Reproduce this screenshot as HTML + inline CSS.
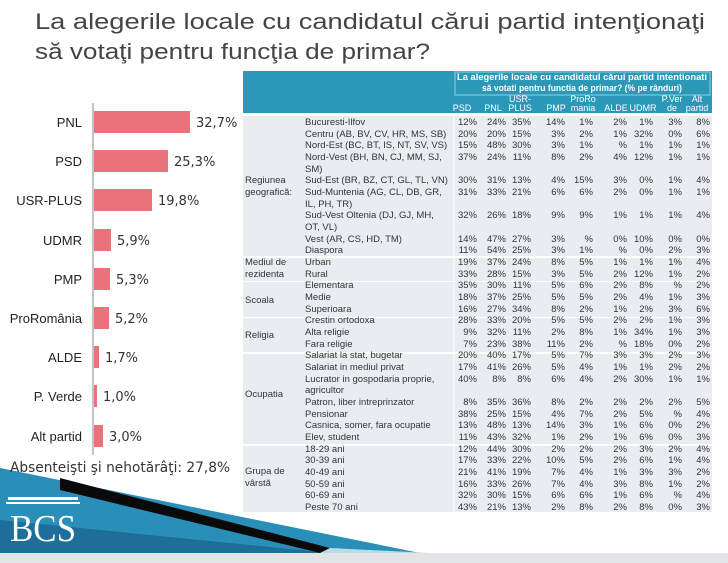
<!DOCTYPE html>
<html><head><meta charset="utf-8"><style>
html,body{margin:0;padding:0;background:#fff;width:728px;height:563px;overflow:hidden}
svg{display:block}
.t{font-family:"Liberation Sans",sans-serif;font-size:9.5px;fill:#333}
.n{font-family:"Liberation Sans",sans-serif;font-size:9.5px;fill:#333;text-anchor:end}
.h{font-family:"Liberation Sans",sans-serif;font-size:9px;fill:#fff;text-anchor:middle}
.bl{font-family:"Liberation Sans",sans-serif;font-size:13px;fill:#222;text-anchor:end}
.bv{font-family:"DejaVu Sans",sans-serif;font-size:13px;fill:#333}
</style></head><body>
<svg width="728" height="563" viewBox="0 0 728 563" xmlns="http://www.w3.org/2000/svg">
<text x="35" y="29" font-family="Liberation Sans,sans-serif" font-size="22" fill="#444" textLength="670" lengthAdjust="spacingAndGlyphs">La alegerile locale cu candidatul cărui partid intenţionaţi</text>
<text x="35" y="59" font-family="Liberation Sans,sans-serif" font-size="22" fill="#444" textLength="395" lengthAdjust="spacingAndGlyphs">să votaţi pentru funcţia de primar?</text>

<polygon points="0,468 420,553 0,553" fill="#2a8fb8"/>
<polygon points="0,520 330,553 0,553" fill="#1d6e98"/>
<polygon points="60,478 330,548 320,553 60,490" fill="#0a0a0a"/>
<polygon points="330,548 430,553 320,553" fill="#b8dbe8"/>
<rect x="0" y="553" width="728" height="10" fill="#e2e4e6"/>
<rect x="8" y="497" width="70" height="3" fill="#fff"/>
<rect x="6" y="502" width="74" height="2" fill="#fff"/>
<text x="10" y="541" font-family="Liberation Serif,serif" font-size="38" fill="#fff" textLength="66" lengthAdjust="spacingAndGlyphs">BCS</text>

<line x1="93" y1="103" x2="93" y2="455" stroke="#888" stroke-width="1"/>
<g fill="#e9737b">
<rect x="94" y="111" width="96" height="22"/>
<rect x="94" y="150" width="74" height="22"/>
<rect x="94" y="189" width="58" height="22"/>
<rect x="94" y="229" width="17" height="22"/>
<rect x="94" y="268" width="16" height="22"/>
<rect x="94" y="307" width="15" height="22"/>
<rect x="94" y="346" width="5" height="22"/>
<rect x="94" y="385" width="3" height="22"/>
<rect x="94" y="425" width="9" height="22"/>
</g>
<text class="bl" x="82" y="127">PNL</text>
<text class="bl" x="82" y="166">PSD</text>
<text class="bl" x="82" y="205">USR-PLUS</text>
<text class="bl" x="82" y="245">UDMR</text>
<text class="bl" x="82" y="284">PMP</text>
<text class="bl" x="82" y="323">ProRomânia</text>
<text class="bl" x="82" y="362">ALDE</text>
<text class="bl" x="82" y="401">P. Verde</text>
<text class="bl" x="82" y="441">Alt partid</text>
<text class="bv" x="196" y="127">32,7%</text>
<text class="bv" x="174" y="166">25,3%</text>
<text class="bv" x="158" y="205">19,8%</text>
<text class="bv" x="117" y="245">5,9%</text>
<text class="bv" x="116" y="284">5,3%</text>
<text class="bv" x="115" y="323">5,2%</text>
<text class="bv" x="105" y="362">1,7%</text>
<text class="bv" x="103" y="401">1,0%</text>
<text class="bv" x="109" y="441">3,0%</text>
<text x="10" y="472" font-family="DejaVu Sans,sans-serif" font-size="14" fill="#333" textLength="220" lengthAdjust="spacingAndGlyphs">Absenteişti şi nehotărâţi: 27,8%</text>

<rect x="243" y="71" width="469" height="42" fill="#2b98b8"/>
<rect x="455" y="72" width="255" height="23" fill="none" stroke="#8fd0e0" stroke-width="1"/>
<text class="h" x="582" y="80" font-weight="bold" font-size="8.5" textLength="250" lengthAdjust="spacingAndGlyphs">La alegerile locale cu candidatul cărui partid intentionati</text>
<text class="h" x="582" y="91" font-weight="bold" font-size="8.5" textLength="200" lengthAdjust="spacingAndGlyphs">să votati pentru functia de primar? (% pe rânduri)</text>
<text class="h" x="462" y="111">PSD</text>
<text class="h" x="493" y="111">PNL</text>
<text class="h" x="520" y="102">USR-</text><text class="h" x="520" y="111">PLUS</text>
<text class="h" x="556" y="111">PMP</text>
<text class="h" x="583" y="102">ProRo</text><text class="h" x="583" y="111">mania</text>
<text class="h" x="616" y="111">ALDE</text>
<text class="h" x="643" y="111">UDMR</text>
<text class="h" x="672" y="102">P.Ver</text><text class="h" x="672" y="111">de</text>
<text class="h" x="697" y="102">Alt</text><text class="h" x="697" y="111">partid</text>

<g fill="#e9edf2">
<rect x="243" y="116" width="469" height="140"/>
<rect x="243" y="258" width="469" height="23"/>
<rect x="243" y="282" width="469" height="35"/>
<rect x="243" y="318" width="469" height="34"/>
<rect x="243" y="354" width="469" height="90"/>
<rect x="243" y="446" width="469" height="66"/>
</g>
<line x1="454" y1="116" x2="454" y2="512" stroke="#fff" stroke-width="1"/>

<text class="t" x="245" y="183">Regiunea</text><text class="t" x="245" y="195">geografică:</text>
<text class="t" x="245" y="265">Mediul de</text><text class="t" x="245" y="277">rezidenta</text>
<text class="t" x="245" y="303">Scoala</text>
<text class="t" x="245" y="338">Religia</text>
<text class="t" x="245" y="397">Ocupatia</text>
<text class="t" x="245" y="474">Grupa de</text><text class="t" x="245" y="486">vârstă</text>

<g>
<text class="t" x="305" y="125">Bucuresti-Ilfov</text>
<text class="t" x="305" y="137">Centru (AB, BV, CV, HR, MS, SB)</text>
<text class="t" x="305" y="148">Nord-Est (BC, BT, IS, NT, SV, VS)</text>
<text class="t" x="305" y="160">Nord-Vest (BH, BN, CJ, MM, SJ,</text>
<text class="t" x="305" y="172">SM)</text>
<text class="t" x="305" y="183">Sud-Est (BR, BZ, CT, GL, TL, VN)</text>
<text class="t" x="305" y="195">Sud-Muntenia (AG, CL, DB, GR,</text>
<text class="t" x="305" y="207">IL, PH, TR)</text>
<text class="t" x="305" y="218">Sud-Vest Oltenia (DJ, GJ, MH,</text>
<text class="t" x="305" y="230">OT, VL)</text>
<text class="t" x="305" y="242">Vest (AR, CS, HD, TM)</text>
<text class="t" x="305" y="253">Diaspora</text>
<text class="t" x="305" y="265">Urban</text>
<text class="t" x="305" y="277">Rural</text>
<text class="t" x="305" y="288">Elementara</text>
<text class="t" x="305" y="300">Medie</text>
<text class="t" x="305" y="312">Superioara</text>
<text class="t" x="305" y="323">Crestin ortodoxa</text>
<text class="t" x="305" y="335">Alta religie</text>
<text class="t" x="305" y="347">Fara religie</text>
<text class="t" x="305" y="358">Salariat la stat, bugetar</text>
<text class="t" x="305" y="370">Salariat in mediul privat</text>
<text class="t" x="305" y="382">Lucrator in gospodaria proprie,</text>
<text class="t" x="305" y="393">agricultor</text>
<text class="t" x="305" y="405">Patron, liber intreprinzator</text>
<text class="t" x="305" y="417">Pensionar</text>
<text class="t" x="305" y="428">Casnica, somer, fara ocupatie</text>
<text class="t" x="305" y="440">Elev, student</text>
<text class="t" x="305" y="452">18-29 ani</text>
<text class="t" x="305" y="463">30-39 ani</text>
<text class="t" x="305" y="475">40-49 ani</text>
<text class="t" x="305" y="487">50-59 ani</text>
<text class="t" x="305" y="498">60-69 ani</text>
<text class="t" x="305" y="510">Peste 70 ani</text>
</g>

<g>
<text class="n" y="125"><tspan x="477">12%</tspan><tspan x="506">24%</tspan><tspan x="531">35%</tspan><tspan x="565">14%</tspan><tspan x="593">1%</tspan><tspan x="627">2%</tspan><tspan x="653">1%</tspan><tspan x="682">3%</tspan><tspan x="710">8%</tspan></text>
<text class="n" y="137"><tspan x="477">20%</tspan><tspan x="506">20%</tspan><tspan x="531">15%</tspan><tspan x="565">3%</tspan><tspan x="593">2%</tspan><tspan x="627">1%</tspan><tspan x="653">32%</tspan><tspan x="682">0%</tspan><tspan x="710">6%</tspan></text>
<text class="n" y="148"><tspan x="477">15%</tspan><tspan x="506">48%</tspan><tspan x="531">30%</tspan><tspan x="565">3%</tspan><tspan x="593">1%</tspan><tspan x="627">%</tspan><tspan x="653">1%</tspan><tspan x="682">1%</tspan><tspan x="710">1%</tspan></text>
<text class="n" y="160"><tspan x="477">37%</tspan><tspan x="506">24%</tspan><tspan x="531">11%</tspan><tspan x="565">8%</tspan><tspan x="593">2%</tspan><tspan x="627">4%</tspan><tspan x="653">12%</tspan><tspan x="682">1%</tspan><tspan x="710">1%</tspan></text>
<text class="n" y="183"><tspan x="477">30%</tspan><tspan x="506">31%</tspan><tspan x="531">13%</tspan><tspan x="565">4%</tspan><tspan x="593">15%</tspan><tspan x="627">3%</tspan><tspan x="653">0%</tspan><tspan x="682">1%</tspan><tspan x="710">4%</tspan></text>
<text class="n" y="195"><tspan x="477">31%</tspan><tspan x="506">33%</tspan><tspan x="531">21%</tspan><tspan x="565">6%</tspan><tspan x="593">6%</tspan><tspan x="627">2%</tspan><tspan x="653">0%</tspan><tspan x="682">1%</tspan><tspan x="710">1%</tspan></text>
<text class="n" y="218"><tspan x="477">32%</tspan><tspan x="506">26%</tspan><tspan x="531">18%</tspan><tspan x="565">9%</tspan><tspan x="593">9%</tspan><tspan x="627">1%</tspan><tspan x="653">1%</tspan><tspan x="682">1%</tspan><tspan x="710">4%</tspan></text>
<text class="n" y="242"><tspan x="477">14%</tspan><tspan x="506">47%</tspan><tspan x="531">27%</tspan><tspan x="565">3%</tspan><tspan x="593">%</tspan><tspan x="627">0%</tspan><tspan x="653">10%</tspan><tspan x="682">0%</tspan><tspan x="710">0%</tspan></text>
<text class="n" y="253"><tspan x="477">11%</tspan><tspan x="506">54%</tspan><tspan x="531">25%</tspan><tspan x="565">3%</tspan><tspan x="593">1%</tspan><tspan x="627">%</tspan><tspan x="653">0%</tspan><tspan x="682">2%</tspan><tspan x="710">3%</tspan></text>
<text class="n" y="265"><tspan x="477">19%</tspan><tspan x="506">37%</tspan><tspan x="531">24%</tspan><tspan x="565">8%</tspan><tspan x="593">5%</tspan><tspan x="627">1%</tspan><tspan x="653">1%</tspan><tspan x="682">1%</tspan><tspan x="710">4%</tspan></text>
<text class="n" y="277"><tspan x="477">33%</tspan><tspan x="506">28%</tspan><tspan x="531">15%</tspan><tspan x="565">3%</tspan><tspan x="593">5%</tspan><tspan x="627">2%</tspan><tspan x="653">12%</tspan><tspan x="682">1%</tspan><tspan x="710">2%</tspan></text>
<text class="n" y="288"><tspan x="477">35%</tspan><tspan x="506">30%</tspan><tspan x="531">11%</tspan><tspan x="565">5%</tspan><tspan x="593">6%</tspan><tspan x="627">2%</tspan><tspan x="653">8%</tspan><tspan x="682">%</tspan><tspan x="710">2%</tspan></text>
<text class="n" y="300"><tspan x="477">18%</tspan><tspan x="506">37%</tspan><tspan x="531">25%</tspan><tspan x="565">5%</tspan><tspan x="593">5%</tspan><tspan x="627">2%</tspan><tspan x="653">4%</tspan><tspan x="682">1%</tspan><tspan x="710">3%</tspan></text>
<text class="n" y="312"><tspan x="477">16%</tspan><tspan x="506">27%</tspan><tspan x="531">34%</tspan><tspan x="565">8%</tspan><tspan x="593">2%</tspan><tspan x="627">1%</tspan><tspan x="653">2%</tspan><tspan x="682">3%</tspan><tspan x="710">6%</tspan></text>
<text class="n" y="323"><tspan x="477">28%</tspan><tspan x="506">33%</tspan><tspan x="531">20%</tspan><tspan x="565">5%</tspan><tspan x="593">5%</tspan><tspan x="627">2%</tspan><tspan x="653">2%</tspan><tspan x="682">1%</tspan><tspan x="710">3%</tspan></text>
<text class="n" y="335"><tspan x="477">9%</tspan><tspan x="506">32%</tspan><tspan x="531">11%</tspan><tspan x="565">2%</tspan><tspan x="593">8%</tspan><tspan x="627">1%</tspan><tspan x="653">34%</tspan><tspan x="682">1%</tspan><tspan x="710">3%</tspan></text>
<text class="n" y="347"><tspan x="477">7%</tspan><tspan x="506">23%</tspan><tspan x="531">38%</tspan><tspan x="565">11%</tspan><tspan x="593">2%</tspan><tspan x="627">%</tspan><tspan x="653">18%</tspan><tspan x="682">0%</tspan><tspan x="710">2%</tspan></text>
<text class="n" y="358"><tspan x="477">20%</tspan><tspan x="506">40%</tspan><tspan x="531">17%</tspan><tspan x="565">5%</tspan><tspan x="593">7%</tspan><tspan x="627">3%</tspan><tspan x="653">3%</tspan><tspan x="682">2%</tspan><tspan x="710">3%</tspan></text>
<text class="n" y="370"><tspan x="477">17%</tspan><tspan x="506">41%</tspan><tspan x="531">26%</tspan><tspan x="565">5%</tspan><tspan x="593">4%</tspan><tspan x="627">1%</tspan><tspan x="653">1%</tspan><tspan x="682">2%</tspan><tspan x="710">2%</tspan></text>
<text class="n" y="382"><tspan x="477">40%</tspan><tspan x="506">8%</tspan><tspan x="531">8%</tspan><tspan x="565">6%</tspan><tspan x="593">4%</tspan><tspan x="627">2%</tspan><tspan x="653">30%</tspan><tspan x="682">1%</tspan><tspan x="710">1%</tspan></text>
<text class="n" y="405"><tspan x="477">8%</tspan><tspan x="506">35%</tspan><tspan x="531">36%</tspan><tspan x="565">8%</tspan><tspan x="593">2%</tspan><tspan x="627">2%</tspan><tspan x="653">2%</tspan><tspan x="682">2%</tspan><tspan x="710">5%</tspan></text>
<text class="n" y="417"><tspan x="477">38%</tspan><tspan x="506">25%</tspan><tspan x="531">15%</tspan><tspan x="565">4%</tspan><tspan x="593">7%</tspan><tspan x="627">2%</tspan><tspan x="653">5%</tspan><tspan x="682">%</tspan><tspan x="710">4%</tspan></text>
<text class="n" y="428"><tspan x="477">13%</tspan><tspan x="506">48%</tspan><tspan x="531">13%</tspan><tspan x="565">14%</tspan><tspan x="593">3%</tspan><tspan x="627">1%</tspan><tspan x="653">6%</tspan><tspan x="682">0%</tspan><tspan x="710">2%</tspan></text>
<text class="n" y="440"><tspan x="477">11%</tspan><tspan x="506">43%</tspan><tspan x="531">32%</tspan><tspan x="565">1%</tspan><tspan x="593">2%</tspan><tspan x="627">1%</tspan><tspan x="653">6%</tspan><tspan x="682">0%</tspan><tspan x="710">3%</tspan></text>
<text class="n" y="452"><tspan x="477">12%</tspan><tspan x="506">44%</tspan><tspan x="531">30%</tspan><tspan x="565">2%</tspan><tspan x="593">2%</tspan><tspan x="627">2%</tspan><tspan x="653">3%</tspan><tspan x="682">2%</tspan><tspan x="710">4%</tspan></text>
<text class="n" y="463"><tspan x="477">17%</tspan><tspan x="506">33%</tspan><tspan x="531">22%</tspan><tspan x="565">10%</tspan><tspan x="593">5%</tspan><tspan x="627">2%</tspan><tspan x="653">6%</tspan><tspan x="682">1%</tspan><tspan x="710">4%</tspan></text>
<text class="n" y="475"><tspan x="477">21%</tspan><tspan x="506">41%</tspan><tspan x="531">19%</tspan><tspan x="565">7%</tspan><tspan x="593">4%</tspan><tspan x="627">1%</tspan><tspan x="653">3%</tspan><tspan x="682">3%</tspan><tspan x="710">2%</tspan></text>
<text class="n" y="487"><tspan x="477">16%</tspan><tspan x="506">33%</tspan><tspan x="531">26%</tspan><tspan x="565">7%</tspan><tspan x="593">4%</tspan><tspan x="627">3%</tspan><tspan x="653">8%</tspan><tspan x="682">1%</tspan><tspan x="710">2%</tspan></text>
<text class="n" y="498"><tspan x="477">32%</tspan><tspan x="506">30%</tspan><tspan x="531">15%</tspan><tspan x="565">6%</tspan><tspan x="593">6%</tspan><tspan x="627">1%</tspan><tspan x="653">6%</tspan><tspan x="682">%</tspan><tspan x="710">4%</tspan></text>
<text class="n" y="510"><tspan x="477">43%</tspan><tspan x="506">21%</tspan><tspan x="531">13%</tspan><tspan x="565">2%</tspan><tspan x="593">8%</tspan><tspan x="627">2%</tspan><tspan x="653">8%</tspan><tspan x="682">0%</tspan><tspan x="710">3%</tspan></text>
</g>
</svg>
</body></html>
